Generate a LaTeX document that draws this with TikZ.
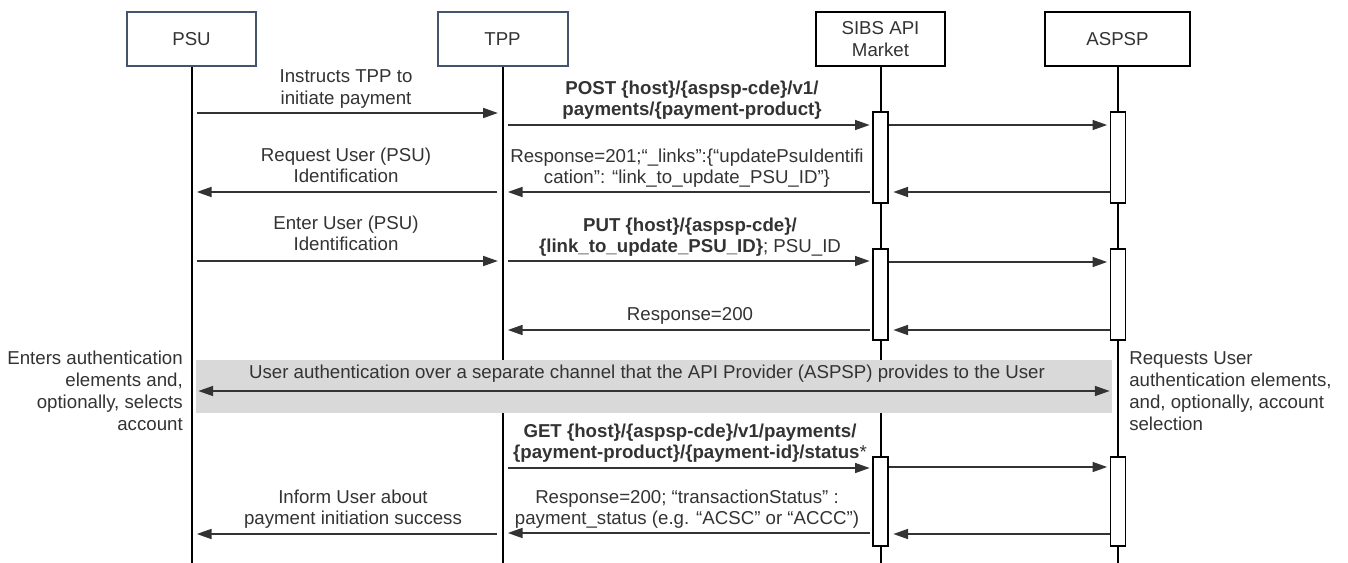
\documentclass[tikz,border=0pt]{standalone}
\usepackage{fontspec}
\setmainfont{Liberation Sans}
\usetikzlibrary{arrows.meta}
\definecolor{ink}{HTML}{333333}
\definecolor{slate}{HTML}{44546A}
\definecolor{band}{HTML}{D9D9D9}

\begin{document}
\begin{tikzpicture}[x=0.75pt,y=-0.75pt,
  every node/.style={font=\fontsize{14}{16}\selectfont, text=ink, inner sep=0pt},
  actor/.style={draw, line width=1.5pt, fill=white, minimum height=40.5pt, align=center},
  life/.style={line width=1.5pt, black},
  actbox/.style={draw=black, line width=1pt, fill=white, minimum width=11.25pt},
  msg/.style={draw=ink, line width=1.1pt, -{Triangle[length=11pt,width=7.5pt]}},
  lbl/.style={align=center},
  note/.style={font=\fontsize{14}{16.5}\selectfont},
]
% canvas
\useasboundingbox (0,0) rectangle (1348,563);
\fill[white] (0,0) rectangle (1348,563);

% participants
\node[actor, draw=slate, minimum width=96.75pt] (psu) at (191.5,39) {PSU};
\node[actor, draw=slate, minimum width=97.5pt] (tpp) at (502.5,39) {TPP};
\node[actor, draw=black, minimum width=96.75pt, font=\fontsize{14}{17}\selectfont] (sibs) at (880.5,39) {SIBS API\\Market};
\node[actor, draw=black, minimum width=108.75pt] (aspsp) at (1117.5,39) {ASPSP};

% lifeline ends
\coordinate (psuEnd) at (psu.south |- 0,563);
\coordinate (tppEnd) at (tpp.south |- 0,563);
\coordinate (sibsEnd) at (sibs.south |- 0,563);
\coordinate (aspspEnd) at (aspsp.south |- 0,563);

\draw[life] (psu.south) -- (psuEnd);
\draw[life] (tpp.south) -- (tppEnd);
\draw[life] (sibs.south) -- (sibsEnd);
\draw[life] (aspsp.south) -- (aspspEnd);

% activation bars
\node[actbox, minimum height=68.25pt] (s1) at (880.5,157.5) {};
\node[actbox, minimum height=68.25pt] (a1) at (1118,157.5) {};
\node[actbox, minimum height=68.25pt] (s2) at (880.5,294.5) {};
\node[actbox, minimum height=68.25pt] (a2) at (1118,294.5) {};
\node[actbox, minimum height=66.75pt] (s3) at (880.5,501.5) {};
\node[actbox, minimum height=66.75pt] (a3) at (1118,501.5) {};

% 1. payment initiation
\draw[msg, shorten <=4pt, shorten >=3.5pt] (psu.south |- 0,113) -- (tpp.south |- 0,113);
\node[lbl] at (346,89) {Instructs TPP to\\initiate payment};
\draw[msg, shorten <=4pt, shorten >=2pt] (tpp.south |- 0,125) -- (s1.west |- 0,125);
\node[lbl] at (692,100) {\textbf{POST \{host\}/\{aspsp-cde\}/v1/}\\\textbf{payments/\{payment-product\}}};
\draw[msg, shorten >=2pt] (s1.east |- 0,125) -- (a1.west |- 0,125);

% 2. identification request
\draw[msg, shorten >=3.5pt] (a1.west |- 0,192) -- (s1.east |- 0,192);
\draw[msg, shorten <=2pt, shorten >=4pt] (s1.west |- 0,192) -- (tpp.south |- 0,192);
\node[lbl] at (687,168) {Response=201;“\_links”:\{“updatePsuIdentifi\\cation”: “link\_to\_update\_PSU\_ID”\}};
\draw[msg, shorten <=4pt, shorten >=4pt] (tpp.south |- 0,192) -- (psu.south |- 0,192);
\node[lbl] at (346,165) {Request User (PSU)\\Identification};

% 3. identification update
\draw[msg, shorten <=4pt, shorten >=3.5pt] (psu.south |- 0,261) -- (tpp.south |- 0,261);
\node[lbl] at (346,233) {Enter User (PSU)\\Identification};
\draw[msg, shorten <=4pt, shorten >=2pt] (tpp.south |- 0,261) -- (s2.west |- 0,261);
\node[lbl] at (690,237) {\textbf{PUT \{host\}/\{aspsp-cde\}/}\\\textbf{\{link\_to\_update\_PSU\_ID\}}; PSU\_ID};
\draw[msg, shorten >=2pt] (s2.east |- 0,262) -- (a2.west |- 0,262);
\draw[msg, shorten >=3.5pt] (a2.west |- 0,330) -- (s2.east |- 0,330);
\draw[msg, shorten <=2pt, shorten >=4pt] (s2.west |- 0,330) -- (tpp.south |- 0,330);
\node[lbl] at (690,316) {Response=200};

% 4. authentication over a separate channel
\node[fill=band, minimum width=687pt, minimum height=39.75pt] (chan) at (654,386.5) {};
\draw[draw=ink, line width=1.1pt, {Triangle[length=11pt,width=7.5pt]}-{Triangle[length=11pt,width=7.5pt]}, shorten <=2pt, shorten >=2pt]
  (chan.west |- 0,391) -- (chan.east |- 0,391);
\node[lbl] at (647,374) {User authentication over a separate channel that the API Provider (ASPSP) provides to the User};
\node[note, align=right, anchor=east] (psuNote) at (183,391) {Enters authentication\\elements and,\\optionally, selects\\account};
\node[note, align=left, anchor=west] (aspspNote) at (1129,391) {Requests User\\authentication elements,\\and, optionally, account\\selection};

% 5. status check
\draw[msg, shorten <=4pt, shorten >=2pt] (tpp.south |- 0,468) -- (s3.west |- 0,468);
\node[lbl] at (690,443) {\textbf{GET \{host\}/\{aspsp-cde\}/v1/payments/}\\\textbf{\{payment-product\}/\{payment-id\}/status}*};
\draw[msg, shorten >=2pt] (s3.east |- 0,467) -- (a3.west |- 0,467);
\draw[msg, shorten >=3.5pt] (a3.west |- 0,534) -- (s3.east |- 0,534);
\draw[msg, shorten <=2pt, shorten >=4pt] (s3.west |- 0,533) -- (tpp.south |- 0,533);
\node[lbl] at (687,509) {Response=200; “transactionStatus” :\\payment\_status (e.g. “ACSC” or “ACCC”)};
\draw[msg, shorten <=4pt, shorten >=4pt] (tpp.south |- 0,534) -- (psu.south |- 0,534);
\node[lbl] at (353,509) {Inform User about\\payment initiation success};
\end{tikzpicture}
\end{document}
